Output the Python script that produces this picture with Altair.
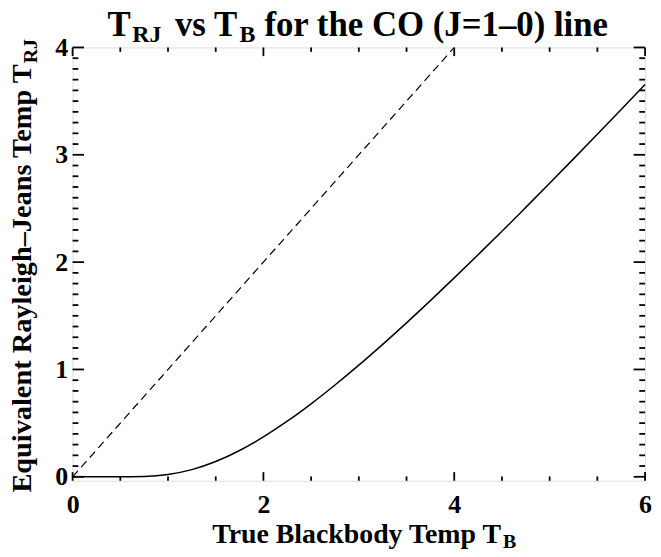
import altair as alt
import pandas as pd

# ---- data ----
t_b = [0.0, 0.25, 0.5, 0.75, 1.0, 1.25, 1.5, 1.75, 2.0, 2.25, 2.5, 2.75, 3.0,
       3.25, 3.5, 3.75, 4.0, 4.25, 4.5, 4.75, 5.0, 5.25, 5.5, 5.75, 6.0]
t_rj = [0.0, 0.0, 0.0, 0.0035, 0.022, 0.067, 0.142, 0.245, 0.372, 0.518, 0.68,
        0.855, 1.04, 1.234, 1.434, 1.641, 1.853, 2.069, 2.287, 2.51, 2.735,
        2.962, 3.191, 3.422, 3.654]
ident_x = [0.0, 4.0]
ident_y = [0.0, 4.0]

x_major = [0, 2, 4, 6]
x_minor = [0.5, 1.0, 1.5, 2.5, 3.0, 3.5, 4.5, 5.0, 5.5]
y_major = [0, 1, 2, 3, 4]
y_minor = [round(i * 0.1, 1) for i in range(0, 41) if i % 10 != 0]

title_main = ["T", "vs T", "for the CO (J=1\u20130) line"]
title_subs = ["RJ", "B"]
xtitle_main = "True Blackbody Temp T"
xtitle_sub = "B"
ytitle_main = "Equivalent Rayleigh\u2013Jeans Temp T"
ytitle_sub = "RJ"

W, H = 576, 436
FONT = "Liberation Serif"

xs = alt.Scale(domain=[0, 6], nice=False, zero=False)
ys = alt.Scale(domain=[-0.037, 4], nice=False, zero=False)

xaxis = alt.Axis(values=x_major, format="d", tickSize=0, domain=False, grid=False,
                 labelFont=FONT, labelFontWeight="bold", labelFontSize=26,
                 labelColor="black", labelPadding=11, labelFlush=False)
yaxis = alt.Axis(values=y_major, format="d", tickSize=0, domain=False, grid=False,
                 labelFont=FONT, labelFontWeight="bold", labelFontSize=26,
                 labelColor="black", labelPadding=5, labelFlush=False)

curve_df = pd.DataFrame({"T": t_b, "R": t_rj})
ident_df = pd.DataFrame({"T": ident_x, "R": ident_y})

curve = alt.Chart(curve_df).mark_line(color="black", strokeWidth=1.5, interpolate="monotone").encode(
    x=alt.X("T:Q", scale=xs, title="", axis=xaxis),
    y=alt.Y("R:Q", scale=ys, title="", axis=yaxis),
)

ident = alt.Chart(ident_df).mark_line(color="black", strokeWidth=1.2, strokeDash=[8, 5], clip=True).encode(
    x=alt.X("T:Q", scale=xs, title="", axis=xaxis),
    y=alt.Y("R:Q", scale=ys, title="", axis=yaxis),
)


def xticks(vals, length, top):
    df = pd.DataFrame({"v": vals})
    if top:
        y0, y1 = 0, length
    else:
        y0, y1 = H, H - length
    return alt.Chart(df).mark_rule(color="black", strokeWidth=1.8).encode(
        x=alt.X("v:Q", scale=xs, title="", axis=xaxis),
        y=alt.value(y0), y2=alt.value(y1))


def yticks(vals, length, right):
    df = pd.DataFrame({"v": vals})
    if right:
        x0, x1 = W, W - length
    else:
        x0, x1 = 0, length
    return alt.Chart(df).mark_rule(color="black", strokeWidth=1.8).encode(
        y=alt.Y("v:Q", scale=ys, title="", axis=yaxis),
        x=alt.value(x0), x2=alt.value(x1))


ticks = [
    xticks(x_major, 8.7, False), xticks(x_major, 8.7, True),
    xticks(x_minor, 4.4, False), xticks(x_minor, 4.4, True),
    yticks(y_major, 11.5, False), yticks(y_major, 11.5, True),
    yticks(y_minor, 5.8, False), yticks(y_minor, 5.8, True),
]


def label(text, x, y, size, align="left", angle=0):
    kw = dict(font=FONT, fontWeight="bold", fontSize=size, color="black",
              align=align, baseline="alphabetic")
    if angle:
        kw["angle"] = angle
    return alt.Chart(alt.Data(values=[{"t": text}])).mark_text(**kw).encode(
        text="t:N", x=alt.value(x), y=alt.value(y))


texts = [
    # title
    label(title_main[0], 35, -12, 35),
    label(title_subs[0], 60, -5, 24),
    label(title_main[1], 103, -12, 35),
    label(title_subs[1], 168, -5, 24),
    label(title_main[2], 193, -12, 35),
    # x title
    label(xtitle_main, 431, 499, 28, align="right"),
    label(xtitle_sub, 433, 504, 20),
    # y title
    label(ytitle_main, -42, 17, 28.5, align="right", angle=270),
    label(ytitle_sub, -36, 16, 20, align="left", angle=270),
]

chart = alt.layer(curve, ident, *ticks, *texts).properties(
    width=W, height=H,
    padding={"left": 65, "top": 38, "right": 8, "bottom": 75},
    autosize=alt.AutoSizeParams(type="none"),
).configure_view(stroke="black", strokeWidth=2).configure(background="white")

chart.save("out.html", embed_options={"renderer": "svg", "actions": False})
